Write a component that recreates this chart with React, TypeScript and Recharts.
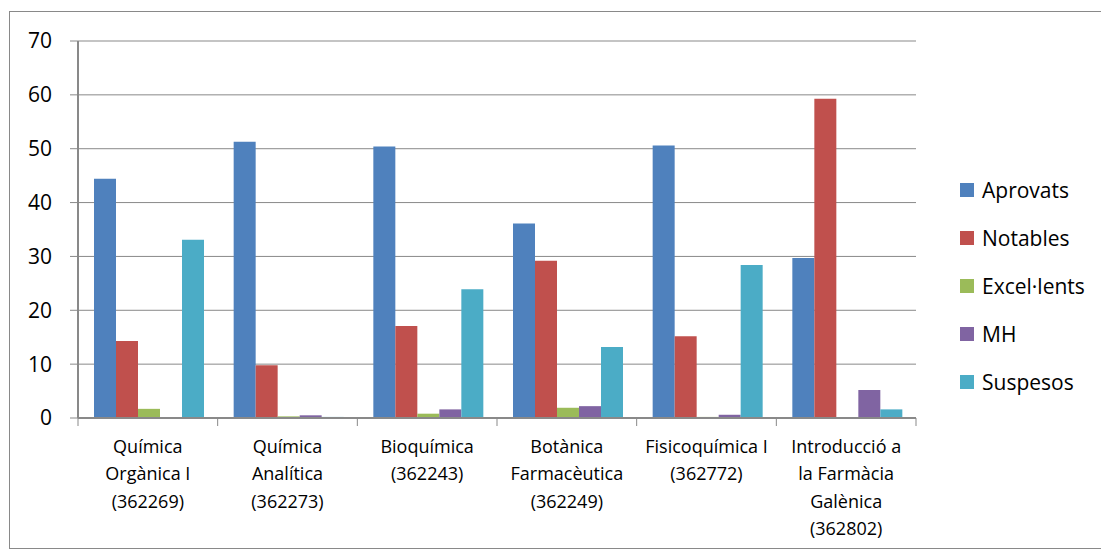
import React from "react";
import { BarChart, Bar, XAxis, YAxis, CartesianGrid } from "recharts";

const categories = [
  ["Química", "Orgànica I", "(362269)"],
  ["Química", "Analítica", "(362273)"],
  ["Bioquímica", "(362243)"],
  ["Botànica", "Farmacèutica", "(362249)"],
  ["Fisicoquímica I", "(362772)"],
  ["Introducció a", "la Farmàcia", "Galènica", "(362802)"],
];

const aprovats = [44.4, 51.3, 50.4, 36.1, 50.6, 29.7];
const notables = [14.3, 9.8, 17.1, 29.2, 15.2, 59.3];
const excellents = [1.7, 0.3, 0.8, 1.9, 0.2, 0];
const mh = [0, 0.5, 1.6, 2.2, 0.6, 5.2];
const suspesos = [33.1, 0.2, 23.9, 13.2, 28.4, 1.6];

const yTicks = [0, 10, 20, 30, 40, 50, 60, 70];

const series = [
  { key: "aprovats", name: "Aprovats", color: "#4F81BD" },
  { key: "notables", name: "Notables", color: "#C0504D" },
  { key: "excellents", name: "Excel·lents", color: "#9BBB59" },
  { key: "mh", name: "MH", color: "#8064A2" },
  { key: "suspesos", name: "Suspesos", color: "#4BACC6" },
];

const data = categories.map((lines, i) => ({
  name: lines.join(" "),
  aprovats: aprovats[i],
  notables: notables[i],
  excellents: excellents[i],
  mh: mh[i],
  suspesos: suspesos[i],
}));

const FONT = "'Open Sans', 'Liberation Sans', sans-serif";
const W = 1094;
const H = 536;
const M = { top: 29, right: 188, bottom: 5, left: 0 };
const Y_W = 68;
const PLOT_W = W - M.left - M.right - Y_W;
const BAND = PLOT_W / categories.length;

const XTick = (props: any) => {
  const { x, y, index } = props;
  const lines = categories[index] || [];
  const left = x - BAND / 2;
  return (
    <g>
      <line x1={left} y1={y - 8} x2={left} y2={y} stroke="#898989" />
      {index === categories.length - 1 && (
        <line x1={left + BAND} y1={y - 8} x2={left + BAND} y2={y} stroke="#898989" />
      )}
      <text
        x={x}
        y={y + 27}
        textAnchor="middle"
        fontFamily={FONT}
        fontSize={18}
        fill="#000"
      >
        {lines.map((l: string, i: number) => (
          <tspan key={i} x={x} dy={i === 0 ? 0 : 27.3}>
            {l}
          </tspan>
        ))}
      </text>
    </g>
  );
};

export default function App() {
  return (
    <div
      style={{
        marginLeft: 1,
        marginTop: 3,
        width: W,
        height: H,
        border: "1px solid #898989",
        background: "#fff",
        position: "relative",
      }}
    >
      <BarChart
        width={W}
        height={H}
        data={data}
        margin={M}
        barCategoryGap={16}
        barGap={0}
      >
        <CartesianGrid vertical={false} stroke="#898989" />
        <XAxis
          dataKey="name"
          height={125}
          interval={0}
          tickLine={false}
          axisLine={{ stroke: "#898989", strokeWidth: 2 }}
          tick={<XTick />}
        />
        <YAxis
          width={Y_W}
          domain={[0, 70]}
          ticks={yTicks}
          tickSize={8}
          tickMargin={18}
          tickLine={{ stroke: "#898989" }}
          axisLine={{ stroke: "#898989", strokeWidth: 2 }}
          tick={{ fontFamily: FONT, fontSize: 21, fill: "#000" }}
          interval={0}
        />
        {series.map((s) => (
          <Bar
            key={s.key}
            dataKey={s.key}
            name={s.name}
            fill={s.color}
            isAnimationActive={false}
          />
        ))}
      </BarChart>
      <div
        style={{
          position: "absolute",
          left: 950,
          top: 154,
          fontFamily: FONT,
          fontSize: 21,
        }}
      >
        {series.map((s) => (
          <div
            key={s.key}
            style={{ display: "flex", alignItems: "center", height: 48 }}
          >
            <span
              style={{
                width: 14,
                height: 14,
                background: s.color,
                display: "inline-block",
                marginRight: 8,
              }}
            />
            <span>{s.name}</span>
          </div>
        ))}
      </div>
    </div>
  );
}
